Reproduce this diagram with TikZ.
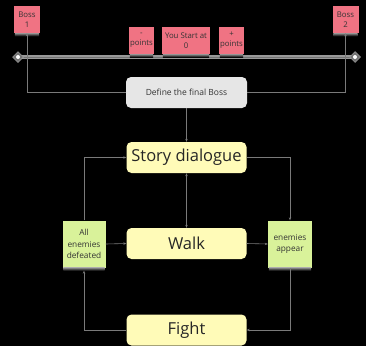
\documentclass[tikz,border=0pt]{standalone}
\usepackage{fontspec}
\setmainfont{Open Sans}
\usetikzlibrary{arrows.meta,shapes.geometric}
\definecolor{pinkc}{HTML}{F07383}
\definecolor{greenc}{HTML}{D9F29A}
\definecolor{yellowc}{HTML}{FFFBB8}
\definecolor{greyc}{HTML}{E6E6E6}
\definecolor{linec}{HTML}{7A7A7A}
\definecolor{txt}{HTML}{333333}
\tikzset{
  sticky/.style={inner sep=0pt, align=center, text=txt, font=\fontsize{7.8}{10}\selectfont},
  pinknote/.style={sticky, fill=pinkc},
  greennote/.style={sticky, fill=greenc, font=\fontsize{8.3}{11.5}\selectfont},
  bigbox/.style={rounded corners=5pt, fill=yellowc, minimum width=120pt, minimum height=31pt, inner sep=0pt, text=black!85, font=\fontsize{16.5}{18}\selectfont},
  greybox/.style={rounded corners=5pt, fill=greyc, minimum width=121pt, minimum height=31pt, inner sep=0pt, text=txt, font=\fontsize{8.5}{10}\selectfont},
  conn/.style={draw=linec, line width=0.6pt, -{Stealth[length=3pt,width=2.4pt]}},
  marker/.style={diamond, fill=black!55, draw=black!35, line width=0.5pt, minimum size=11pt, inner sep=0pt},
}
\newcommand{\notesh}[1]{\shade[top color=black!45, bottom color=black] ([xshift=1pt]#1.south west) rectangle ([xshift=-1pt,yshift=-3pt]#1.south east);}
\begin{document}
\begin{tikzpicture}[x=1pt,y=-1pt]
\fill[black] (0,0) rectangle (366,346);
\useasboundingbox (0,0) rectangle (366,346);

% top bar
\draw[black!40, line width=3.5pt] (18,57) -- (355,57);
\draw[black!55, line width=1pt] (18,57.6) -- (355,57.6);

% sticky notes
\node[pinknote, minimum width=26pt, minimum height=27pt] (b1) at (27,19.5) {Boss\\1};
\node[pinknote, minimum width=26pt, minimum height=27pt] (b2) at (345.5,19.5) {Boss\\2};
\node[pinknote, minimum width=25pt, minimum height=27pt] (mp) at (141.5,40.5) {-\\points};
\node[pinknote, minimum width=48pt, minimum height=27pt] (ys) at (186,40.5) {You Start at\\0};
\node[pinknote, minimum width=25pt, minimum height=27pt] (pp) at (231.5,40.5) {+\\points};
\foreach \n in {b1,b2,mp,ys,pp} {\notesh{\n}}

% boxes
\node[greybox] (def) at (186.5,92.5) {Define the final Boss};
\node[bigbox] (story) at (186.5,157.5) {Story dialogue};
\node[bigbox] (walk) at (186.5,243.5) {Walk};
\node[bigbox] (fight) at (186.5,330) {Fight};

\node[greennote, minimum width=43pt, minimum height=47pt] (all) at (84,244) {All\\enemies\\defeated};
\node[greennote, minimum width=44pt, minimum height=47pt] (app) at (290,244) {enemies\\appear};
\notesh{all}
\notesh{app}

% diamond markers
\node[marker] (dl) at (18,57) {};
\node[marker] (dr) at (355,57) {};
\fill[white] (dl) circle (2pt);
\fill[white] (dr) circle (2pt);

% connectors
\draw[conn] (def.west) -| (b1.south);
\draw[conn] (def.east) -| (b2.south);
\draw[conn] (def.south) -- (story.north);
\draw[conn, {Stealth[length=3pt,width=2.4pt]}-{Stealth[length=3pt,width=2.4pt]}] (story.south) -- (walk.north);
\draw[conn] (story.east) -| (app.north);
\draw[conn] (walk.east) -- (app.west);
\draw[conn] (app.south) |- (fight.east);
\draw[conn] (fight.west) -| ([yshift=-3pt]all.south);
\draw[conn] (all.east) -- (walk.west);
\draw[conn] (all.north) |- (story.west);
\end{tikzpicture}
\end{document}
